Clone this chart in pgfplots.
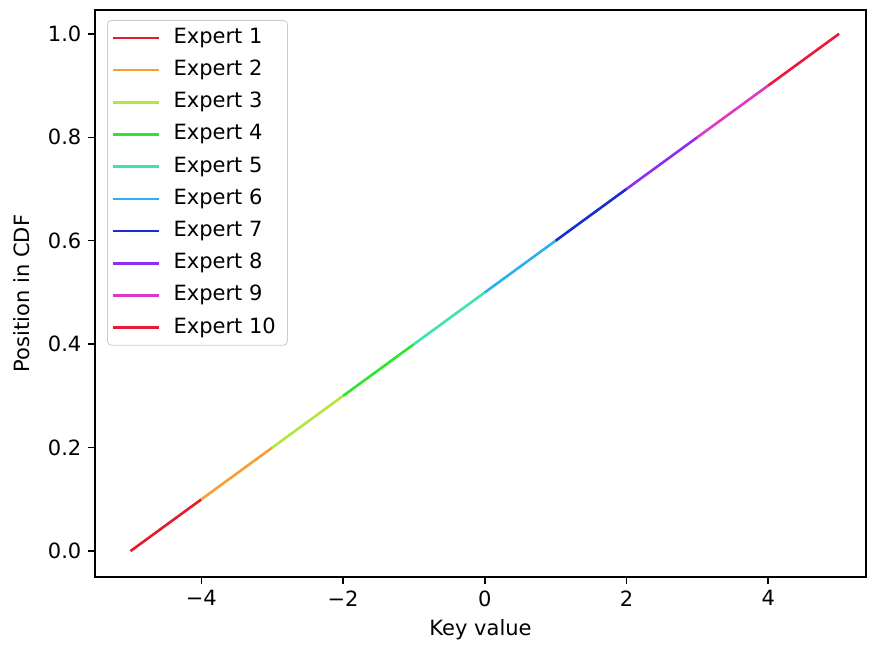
\documentclass[border=0pt]{standalone}
\usepackage{fontspec}
\setmainfont{DejaVu Sans}
\usepackage{pgfplots}
\pgfplotsset{compat=1.18}
\definecolor{c1}{RGB}{226,28,44}
\definecolor{c2}{RGB}{245,160,50}
\definecolor{c3}{RGB}{180,230,60}
\definecolor{c4}{RGB}{45,230,45}
\definecolor{c5}{RGB}{60,230,170}
\definecolor{c6}{RGB}{45,175,240}
\definecolor{c7}{RGB}{25,45,210}
\definecolor{c8}{RGB}{140,45,240}
\definecolor{c9}{RGB}{222,55,200}
\definecolor{c10}{RGB}{235,25,55}
\begin{document}
\begin{tikzpicture}
\begin{axis}[
  scale only axis,
  width=385.5pt, height=283.5pt,
  xmin=-5.5, xmax=5.38, ymin=-0.05, ymax=1.046,
  axis line style={line width=0.75pt},
  tick style={line width=0.75pt, black},
  tick align=outside, major tick length=3.3pt,
  xtick={-4,-2,0,2,4},
  xticklabels={−4,−2,0,2,4},
  ytick={0,0.2,0.4,0.6,0.8,1.0},
  yticklabels={0.0,0.2,0.4,0.6,0.8,1.0},
  xtick pos=bottom, ytick pos=left,
  /pgf/number format/assume math mode=true,
  tick label style={font=\fontsize{10.5}{12}\selectfont},
  label style={font=\fontsize{10.5}{12}\selectfont},
  xlabel={Key value},
  ylabel={Position in CDF},
  xlabel style={at={(axis description cs:0.5,-0.0935)}, anchor=center},
  ylabel style={at={(axis description cs:-0.0947,0.5)}, anchor=center},
  legend cell align=left,
  legend image code/.code={\draw[#1] (0pt,0pt) -- (23pt,0pt);},
  legend style={at={(0.0156,0.9824)}, anchor=north west,
    draw=black!20, rounded corners=2pt, fill=white, fill opacity=0.8, text opacity=1,
    font=\fontsize{10.5}{12}\selectfont,
    inner xsep=2pt, inner ysep=3.5pt,
    column sep=3pt,
    nodes={inner xsep=3.8pt, inner ysep=0pt, text height=8pt, text depth=2.5pt},
    row sep=5.6pt},
]
\addplot[c1, line width=1.3pt] coordinates {(-5,0) (-4,0.1)};
\addlegendentry{Expert 1}
\addplot[c2, line width=1.3pt] coordinates {(-4,0.1) (-3,0.2)};
\addlegendentry{Expert 2}
\addplot[c3, line width=1.3pt] coordinates {(-3,0.2) (-2,0.3)};
\addlegendentry{Expert 3}
\addplot[c4, line width=1.3pt] coordinates {(-2,0.3) (-1,0.4)};
\addlegendentry{Expert 4}
\addplot[c5, line width=1.3pt] coordinates {(-1,0.4) (0,0.5)};
\addlegendentry{Expert 5}
\addplot[c6, line width=1.3pt] coordinates {(0,0.5) (1,0.6)};
\addlegendentry{Expert 6}
\addplot[c7, line width=1.3pt] coordinates {(1,0.6) (2,0.7)};
\addlegendentry{Expert 7}
\addplot[c8, line width=1.3pt] coordinates {(2,0.7) (3,0.8)};
\addlegendentry{Expert 8}
\addplot[c9, line width=1.3pt] coordinates {(3,0.8) (4,0.9)};
\addlegendentry{Expert 9}
\addplot[c10, line width=1.3pt] coordinates {(4,0.9) (5,1.0)};
\addlegendentry{Expert 10}
\end{axis}
\pgfresetboundingbox
\path ([shift={(-47.5pt,-34pt)}]current axis.south west) rectangle ([shift={(3.5pt,5pt)}]current axis.north east);
\end{tikzpicture}
\end{document}
